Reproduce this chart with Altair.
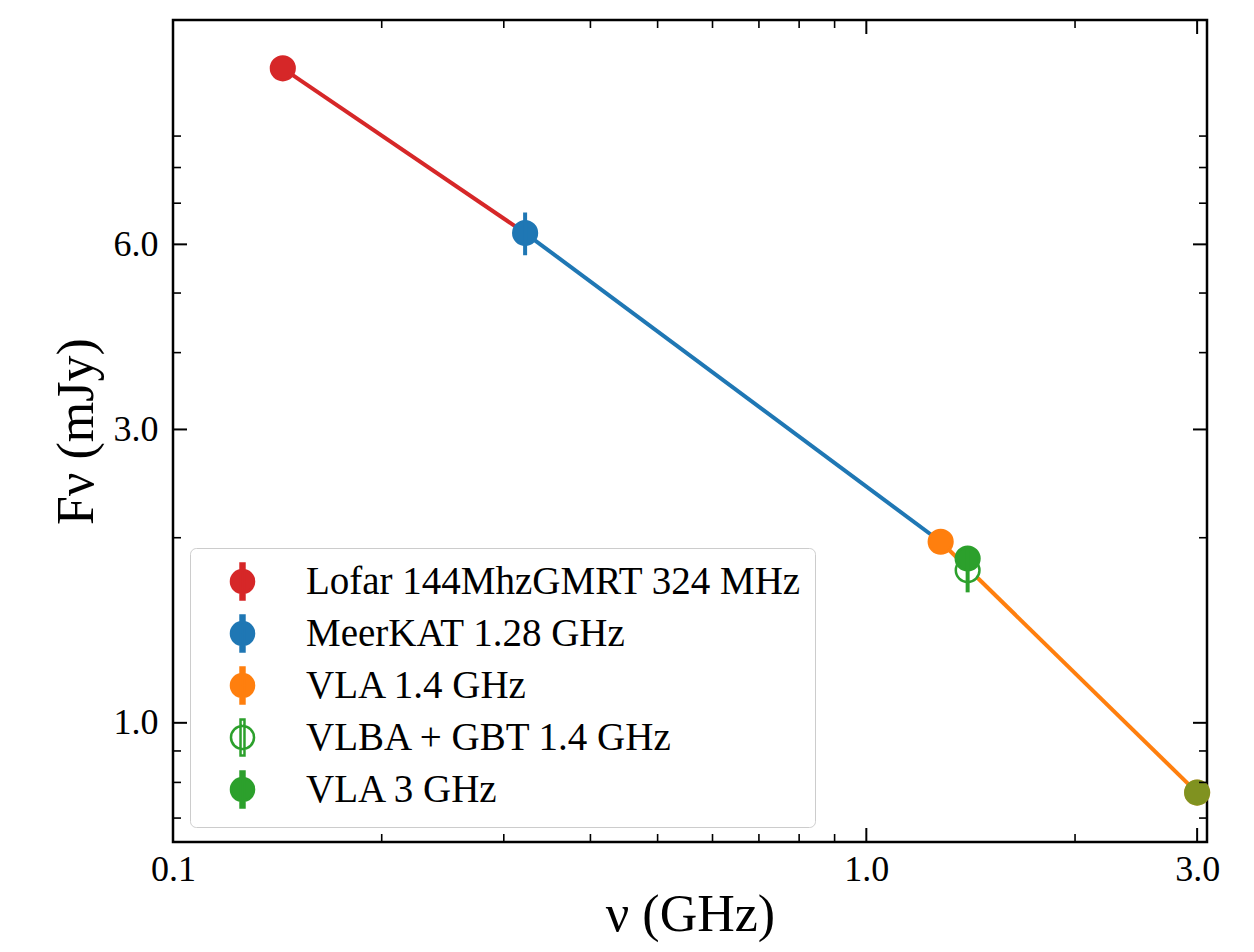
import altair as alt
import pandas as pd

# ---------------- data ----------------
series_names = ["Lofar 144MhzGMRT 324 MHz", "MeerKAT 1.28 GHz", "VLA 1.4 GHz",
                "VLBA + GBT 1.4 GHz", "VLA 3 GHz"]
series_fill = ["#d62728", "#1f77b4", "#ff7f0e", "white", "#2ca02c"]
series_stroke = ["#d62728", "#1f77b4", "#ff7f0e", "#2ca02c", "#2ca02c"]

pt_label = ["Lofar 144MhzGMRT 324 MHz", "MeerKAT 1.28 GHz", "VLA 1.4 GHz", "VLA 1.4 GHz",
            "VLBA + GBT 1.4 GHz", "VLA 3 GHz", "VLA 3 GHz"]
pt_freq = [0.144, 0.322, 1.28, 3.0, 1.40, 1.40, 3.0]
pt_flux = [11.6, 6.26, 1.97, 0.77, 1.77, 1.85, 0.77]
pt_alpha = [1, 1, 1, 1, 1, 1, 0.6]

err_freq = [0.322, 1.40]
err_lo = [5.76, 1.63]
err_hi = [6.76, 1.92]
err_color = ["#1f77b4", "#2ca02c"]

line_seg = ["a", "a", "b", "b", "c", "c"]
line_freq = [0.144, 0.322, 0.322, 1.28, 1.28, 3.0]
line_flux = [11.6, 6.26, 6.26, 1.97, 1.97, 0.77]
line_color = ["#d62728", "#d62728", "#1f77b4", "#1f77b4", "#ff7f0e", "#ff7f0e"]

x_major = [0.1, 1.0, 3.0]
x_minor = [0.2, 0.3, 0.4, 0.5, 0.6, 0.7, 0.8, 0.9, 2.0]
y_major = [1.0, 3.0, 6.0]
y_minor = [0.7, 0.8, 0.9, 2.0, 4.0, 5.0, 7.0, 8.0, 9.0]

# ---------------- layout ----------------
W, H = 1034, 822
FONT = "Liberation Serif"

pts = pd.DataFrame({"series": pt_label, "freq": pt_freq, "flux": pt_flux, "alpha": pt_alpha})
errs = pd.DataFrame({"freq": err_freq, "lo": err_lo, "hi": err_hi, "color": err_color})
lines = pd.DataFrame({"seg": line_seg, "freq": line_freq, "flux": line_flux, "color": line_color})

xscale = alt.Scale(type="log", domain=[0.1, 3.1], nice=False)
yscale = alt.Scale(type="log", domain=[0.64, 13.9], nice=False)

xaxis = alt.Axis(title="\u03bd (GHz)", values=x_major, format=".1f", ticks=False, domain=False,
                 grid=False, labelFont=FONT, labelFontSize=36, labelColor="black",
                 labelPadding=10, titleFont=FONT, titleFontSize=52, titleFontWeight="normal",
                 titleColor="black", titlePadding=2, labelFlush=False)
yaxis = alt.Axis(title="F\u03bd (mJy)", values=y_major, format=".1f", ticks=False, domain=False,
                 grid=False, labelFont=FONT, labelFontSize=36, labelColor="black",
                 labelPadding=15, titleFont=FONT, titleFontSize=52, titleFontWeight="normal",
                 titleColor="black", titlePadding=10, labelFlush=False)

sym = ("M -0.64 0 A 0.64 0.64 0 1 1 0.64 0 A 0.64 0.64 0 1 1 -0.64 0 Z "
       "M -0.11 -1 L 0.11 -1 L 0.11 1 L -0.11 1 Z")
leg = alt.Legend(title=None, orient="none", legendX=17, legendY=528, symbolType=sym,
                 symbolSize=1296, symbolStrokeWidth=2.5, symbolOpacity=1, labelFont=FONT,
                 labelFontSize=39, labelColor="black", padding=14, rowPadding=5,
                 symbolOffset=19, labelOffset=44, fillColor="white", strokeColor="#cccccc",
                 cornerRadius=6, labelLimit=0)

line_layer = alt.Chart(lines).mark_line(strokeWidth=4).encode(
    x=alt.X("freq:Q", scale=xscale, axis=xaxis),
    y=alt.Y("flux:Q", scale=yscale, axis=yaxis),
    stroke=alt.Stroke("color:N", scale=None),
    detail="seg:N",
)

point_layer = alt.Chart(pts).mark_point(filled=False, size=560, strokeWidth=2.5, shape="circle").encode(
    x=alt.X("freq:Q", scale=xscale, axis=xaxis),
    y=alt.Y("flux:Q", scale=yscale, axis=yaxis),
    fill=alt.Fill("series:N", scale=alt.Scale(domain=series_names, range=series_fill), legend=leg),
    stroke=alt.Stroke("series:N", scale=alt.Scale(domain=series_names, range=series_stroke), legend=leg),
    opacity=alt.Opacity("alpha:Q", scale=None),
)

err_layer = alt.Chart(errs).mark_rule(strokeWidth=4).encode(
    x=alt.X("freq:Q", scale=xscale, axis=xaxis),
    y=alt.Y("lo:Q", scale=yscale, axis=yaxis),
    y2="hi:Q",
    stroke=alt.Stroke("color:N", scale=None),
)

def xticks(vals, length, sw):
    df = pd.DataFrame({"v": vals})
    bottom = alt.Chart(df).mark_rule(color="black", strokeWidth=sw).encode(
        x=alt.X("v:Q", scale=xscale, axis=xaxis), y=alt.value(H), y2=alt.value(H - length))
    top = alt.Chart(df).mark_rule(color="black", strokeWidth=sw).encode(
        x=alt.X("v:Q", scale=xscale, axis=xaxis), y=alt.value(0), y2=alt.value(length))
    return [bottom, top]

def yticks(vals, length, sw):
    df = pd.DataFrame({"v": vals})
    left = alt.Chart(df).mark_rule(color="black", strokeWidth=sw).encode(
        y=alt.Y("v:Q", scale=yscale, axis=yaxis), x=alt.value(0), x2=alt.value(length))
    right = alt.Chart(df).mark_rule(color="black", strokeWidth=sw).encode(
        y=alt.Y("v:Q", scale=yscale, axis=yaxis), x=alt.value(W), x2=alt.value(W - length))
    return [left, right]

tick_layers = (xticks(x_major, 14, 2) + xticks(x_minor, 8, 1.6)
               + yticks(y_major, 14, 2) + yticks(y_minor, 8, 1.6))

chart = alt.layer(line_layer, point_layer, err_layer, *tick_layers).properties(
    width=W, height=H,
    padding={"left": 173, "top": 20, "right": 47, "bottom": 110},
    autosize=alt.AutoSizeParams(type="none"),
    background="white",
).configure_view(stroke="black", strokeWidth=2.5)

chart.save("out.html", embed_options={"renderer": "svg", "actions": False})
